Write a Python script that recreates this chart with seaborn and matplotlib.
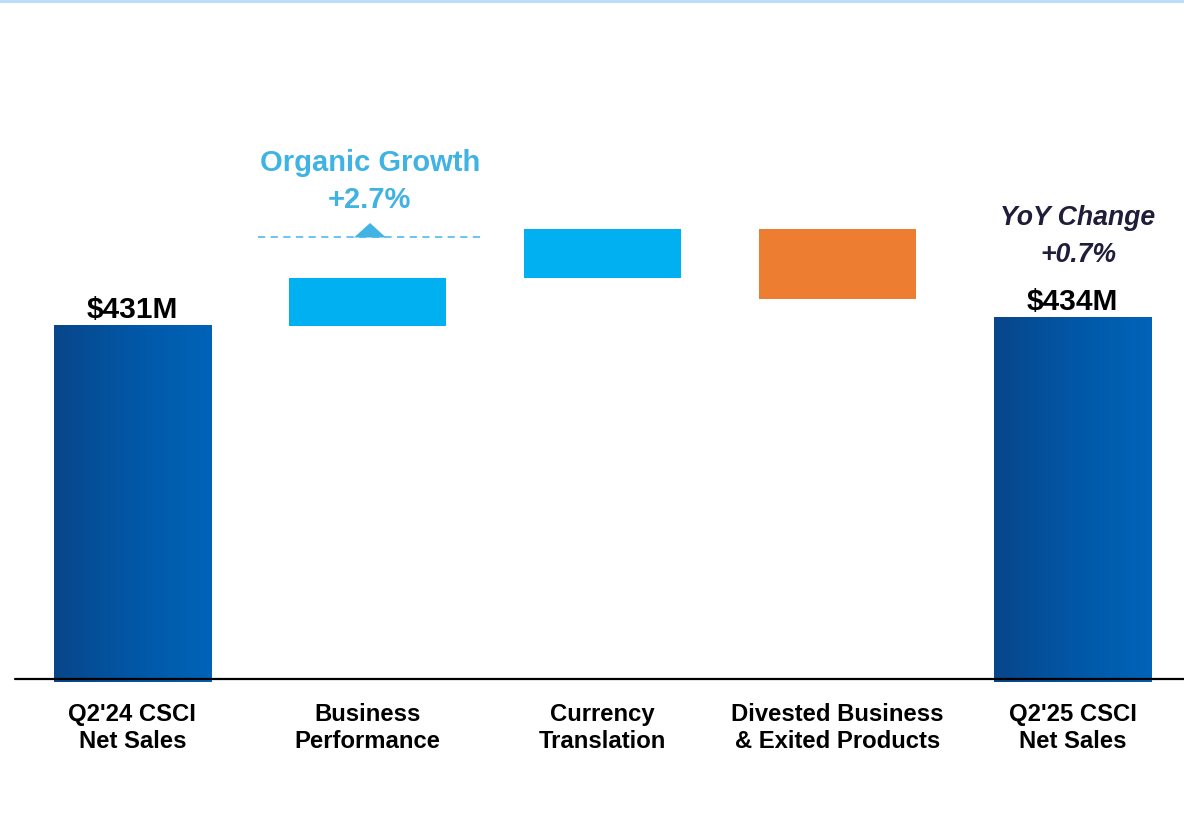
import numpy as np
import pandas as pd
import matplotlib
matplotlib.use("Agg")
import matplotlib.pyplot as plt
import seaborn as sns
from matplotlib.colors import LinearSegmentedColormap
from matplotlib.patches import Rectangle, Polygon

# ---------------- data ----------------
categories = ["Q2'24 CSCI\nNet Sales", "Business\nPerformance", "Currency\nTranslation",
              "Divested Business\n& Exited Products", "Q2'25 CSCI\nNet Sales"]
start_value = 431          # $M
end_value = 434            # $M
bridge_steps = [17.9, 18.4, -26.3]   # step sizes as drawn (illustrative, $M)
value_labels = ["$431M", "$434M"]
organic_label = ["Organic Growth", "+2.7%"]
yoy_label = ["YoY Change", "+0.7%"]

# build waterfall table
bottoms = [0]
heights = [start_value]
running = start_value
for s in bridge_steps:
    bottoms.append(running)
    heights.append(s)
    running += s
bottoms.append(0)
heights.append(end_value)
df = pd.DataFrame({"category": categories, "height": heights})

# ---------------- style ----------------
sns.set_theme(style="white")
plt.rcParams["font.family"] = ["Liberation Sans", "DejaVu Sans"]

W, H = 1184, 819
fig = plt.figure(figsize=(W / 100, H / 100), dpi=100)
ax = fig.add_axes([0, 137 / H, 1, 682 / H])

UP = "#00b0f0"
DOWN = "#ed7d31"
sns.barplot(data=df, x="category", y="height", order=categories, bottom=bottoms,
            width=0.668, color=UP, saturation=1, errorbar=None, ax=ax, linewidth=0)

patches = list(ax.patches)
for i, p in enumerate(patches):
    if 1 <= i <= len(bridge_steps):
        p.set_facecolor(UP if heights[i] >= 0 else DOWN)

YMIN, YMAX = 297.5, 553.2
XMIN, XMAX = -0.563, 4.4745

grad = LinearSegmentedColormap.from_list("g", ["#08468a", "#0257a6", "#0064b8"])
for i in (0, len(patches) - 1):
    p = patches[i]
    x0, w = p.get_x(), p.get_width()
    y0, h = p.get_y(), p.get_height()
    ylo = max(y0, YMIN)
    ax.imshow(np.linspace(0, 1, 256)[None, :], cmap=grad, aspect="auto",
              extent=[x0, x0 + w, ylo, y0 + h], zorder=p.get_zorder(),
              interpolation="bilinear")
    p.set_facecolor("none")

ax.set_xlim(XMIN, XMAX)
ax.set_ylim(YMIN, YMAX)

# baseline
ax.axhline(YMIN + 3 / 2.667, xmin=15 / W, xmax=1, color="black", lw=1.6, zorder=6)

# axes cosmetics
for s in ax.spines.values():
    s.set_visible(False)
ax.set_yticks([])
ax.set_xlabel("")
ax.set_ylabel("")
ax.tick_params(axis="x", length=0, pad=15)
ax.set_xticks(range(len(categories)))
ax.set_xticklabels(categories, fontsize=17.2, fontweight="bold", color="black",
                   linespacing=1.22)

def ypx(p):
    return ax.transData.inverted().transform((0, H - p))[1]

# value labels on total bars
ax.annotate(value_labels[0], xy=(0, start_value), xytext=(0, 11.5), textcoords="offset points",
            ha="center", va="center", fontsize=21.5, fontweight="bold", color="black")
ax.annotate(value_labels[1], xy=(len(categories) - 1, end_value), xytext=(0, 11.5),
            textcoords="offset points", ha="center", va="center", fontsize=21.5,
            fontweight="bold", color="black")

# organic growth callout
OG = "#3fb3e3"
ax.text(1.01, ypx(163), organic_label[0], ha="center", va="center", fontsize=21,
        fontweight="bold", color=OG)
ax.text(1.01, ypx(200), organic_label[1], ha="center", va="center", fontsize=21,
        fontweight="bold", color=OG)
ax.plot([0.535, 1.49], [ypx(237), ypx(237)], color="#5cc1ec", lw=1.3,
        dashes=(4, 3), zorder=4)
ax.add_patch(Polygon([[0.943, ypx(237.5)], [1.079, ypx(237.5)], [1.0115, ypx(223)]],
                     closed=True, color="#42b4e4", zorder=5, lw=0))

# YoY callout
YC = "#1e1e3a"
ax.text(4.023, ypx(218), yoy_label[0], ha="center", va="center", fontsize=19.2,
        fontweight="bold", fontstyle="italic", color=YC)
ax.text(4.023, ypx(255), yoy_label[1], ha="center", va="center", fontsize=19.2,
        fontweight="bold", fontstyle="italic", color=YC)

# top accent strip
fig.add_artist(Rectangle((0, 1 - 3 / H), 1, 3 / H, transform=fig.transFigure,
                         color="#bcdcfc", lw=0))

fig.savefig("out.png", dpi=100)
